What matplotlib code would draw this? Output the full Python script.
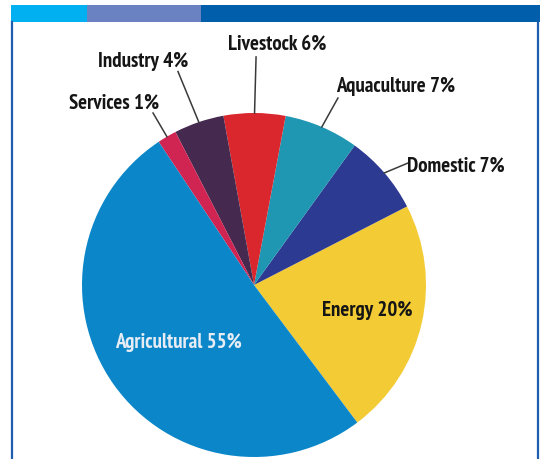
import numpy as np
import matplotlib
matplotlib.use("Agg")
import matplotlib.pyplot as plt
from matplotlib.patches import Rectangle

# slice order follows the drawing, counter-clockwise from the Energy/Agricultural cut
categories = ['Energy', 'Domestic', 'Aquaculture', 'Livestock', 'Industry', 'Services', 'Agricultural']
printed_pct = [20, 7, 7, 6, 4, 1, 55]
# wedge sizes as drawn in the picture (they do not follow the printed numbers exactly)
drawn_share = [22.3, 7.5, 7.0, 5.8, 4.7, 1.8, 50.9]
colors = ['#f3cb35', '#2c3a92', '#1f97b2', '#da272d', '#45294f', '#d02452', '#0b86c8']

W, H = 540, 460
fig = plt.figure(figsize=(W / 100, H / 100), dpi=100, facecolor='white')
font = ['PT Sans Narrow', 'Roboto Condensed', 'DejaVu Sans']

# frame: coloured strip at top, thin blue borders at the sides
bg = fig.add_axes([0, 0, 1, 1])
bg.set_xlim(0, W)
bg.set_ylim(H, 0)
bg.axis('off')
for x0, x1, c in [(11, 87, '#00b0f0'), (87, 201, '#6a82c2'), (201, 541, '#005eab')]:
    bg.add_patch(Rectangle((x0, 6), x1 - x0, 17, facecolor=c, edgecolor='none'))
bg.plot([12, 12], [23, H], color='#1d5fae', lw=1.6)
bg.plot([537.5, 537.5], [23, H], color='#1d5fae', lw=1.6)

# pie, centre ~ (254, 286) px, radius ~172 px
cx, cy, r = 254, 286, 172
ax = fig.add_axes([(cx - r) / W, (H - cy - r) / H, 2 * r / W, 2 * r / H])
wedges, _ = ax.pie(drawn_share, colors=colors, startangle=-53.1, counterclock=True,
                   radius=1.0, wedgeprops=dict(linewidth=0))
ax.set_xlim(-1, 1)
ax.set_ylim(-1, 1)
ax.set_aspect('equal')
ax.axis('off')

# outside labels with leader lines: (text centre, line end) in pie units
outside = {
    'Livestock': ((0.134, 1.405), (0.012, 1.326)),
    'Industry': ((-0.645, 1.308), (-0.442, 1.241)),
    'Services': ((-0.814, 1.064), (-0.587, 1.000)),
    'Aquaculture': ((0.826, 1.157), (0.488, 1.087)),
    'Domestic': ((1.174, 0.698), (0.895, 0.709)),
}
inside = {
    'Energy': ((0.657, -0.140), '#151515'),
    'Agricultural': ((-0.442, -0.331), '#e6edf5'),
}

for w, name, pct in zip(wedges, categories, printed_pct):
    label = f'{name} {pct}%'
    if name in outside:
        (tx, ty), (lx, ly) = outside[name]
        mid = np.deg2rad((w.theta1 + w.theta2) / 2)
        ax.plot([np.cos(mid), lx], [np.sin(mid), ly], color='#3a3a3a', lw=1.1,
                clip_on=False)
        ax.text(tx, ty, label, ha='center', va='center', fontsize=15,
                fontweight='bold', color='#151515', family=font)
    else:
        (tx, ty), c = inside[name]
        ax.text(tx, ty, label, ha='center', va='center', fontsize=15,
                fontweight='bold', color=c, family=font)

fig.savefig('out.png', dpi=100, facecolor='white')
